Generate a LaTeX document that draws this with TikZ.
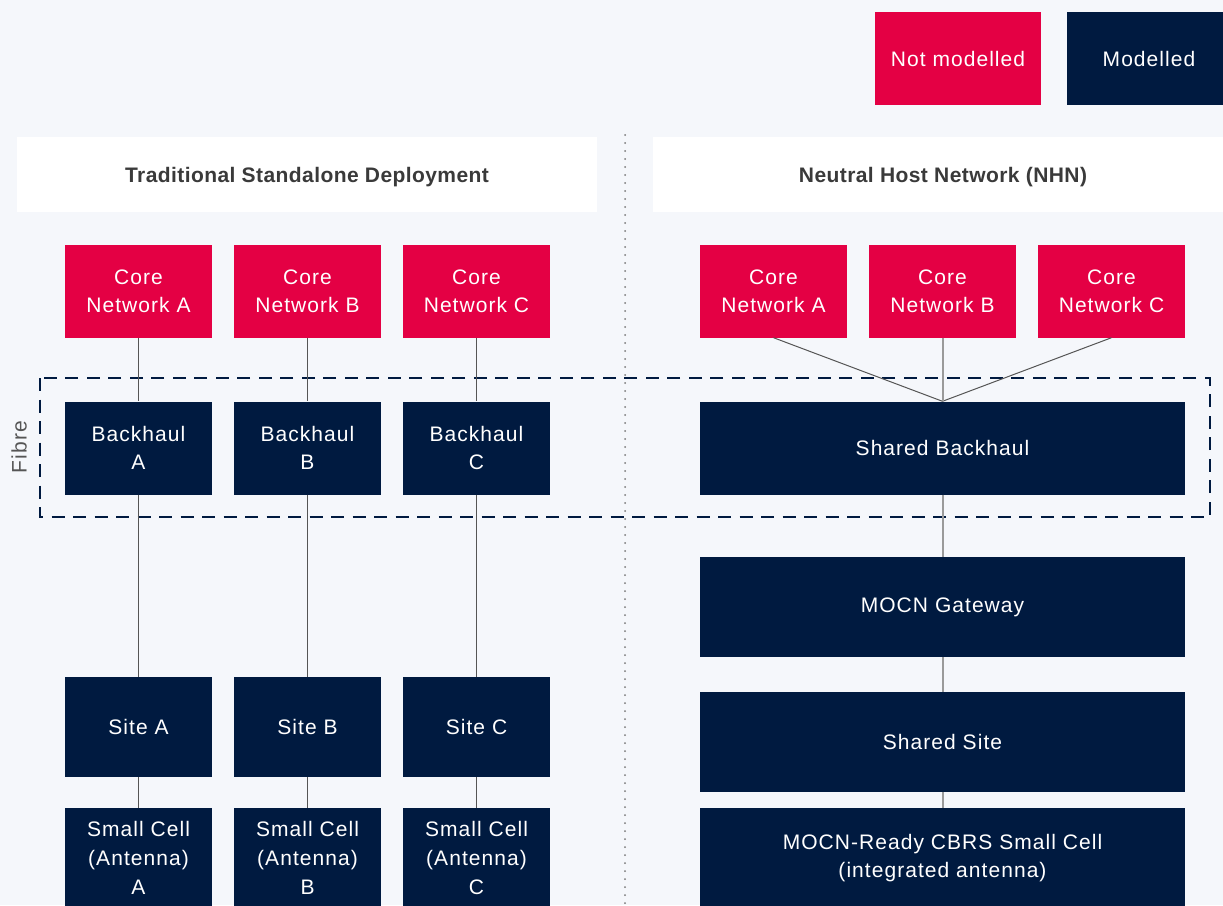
\documentclass[tikz,border=0pt]{standalone}
\usepackage{fontspec}
\setmainfont{Liberation Sans}
\newfontfamily\boxfont[LetterSpace=5]{Liberation Sans}
\newfontfamily\hdrfont[LetterSpace=2]{Liberation Sans}
\definecolor{bg}{HTML}{F5F7FB}
\definecolor{nred}{HTML}{E40044}
\definecolor{navy}{HTML}{001A40}
\definecolor{hdr}{HTML}{3A3A3A}
\definecolor{ln}{HTML}{555555}
\definecolor{lnl}{HTML}{9A9A9A}
\tikzset{
  box/.style={rectangle, inner sep=0pt, text=white, align=center, font=\boxfont\fontsize{21}{28}\selectfont},
  redbox/.style={box, fill=nred},
  navybox/.style={box, fill=navy},
  hdrbox/.style={rectangle, inner sep=0pt, fill=white, text=hdr, text height=15pt, text depth=0pt, font=\hdrfont\fontsize{21}{24}\selectfont\bfseries},
  conn/.style={draw=ln, line width=1pt},
  connl/.style={draw=lnl, line width=2pt},
}
\begin{document}
\begin{tikzpicture}[x=1pt,y=-1pt]
\clip (0,0) rectangle (1223,905);
\fill[bg] (0,0) rectangle (1223,905);
% legend
\node[redbox, minimum width=166pt, minimum height=93pt] (lnm) at (958,58.5) {Not modelled};
\node[navybox, minimum width=164pt, minimum height=93pt] (lm) at (1149,58.5) {Modelled};
% headers
\node[hdrbox, minimum width=580pt, minimum height=75pt] (hl) at (307,174.5) {Traditional Standalone Deployment};
\node[hdrbox, minimum width=580pt, minimum height=75pt] (hr) at (943,174.5) {Neutral Host Network (NHN)};
% divider
\coordinate (dtop) at (625,135);
\coordinate (dbot) at (625,910);
\draw[color=ln!80, line width=2pt, line cap=round, dash pattern=on 0pt off 8pt] (dtop) -- (dbot);
% dashed fibre region
\draw[navy, line width=2.8pt, dash pattern=on 13pt off 8.5pt] (40,378) rectangle (1210,517);
\node[text=ln, rotate=90, font=\boxfont\fontsize{21}{24}\selectfont] (fibre) at (19,447) {Fibre};
% left column
\foreach \n/\x in {A/138.5, B/307.5, C/476.5} {
  \node[redbox, minimum width=147pt, minimum height=93pt] (core\n) at (\x,291) {Core\\Network \n};
  \node[navybox, minimum width=147pt, minimum height=93pt] (bh\n) at (\x,448) {Backhaul\\\n};
  \node[navybox, minimum width=147pt, minimum height=100pt] (site\n) at (\x,727) {Site \n};
  \node[navybox, minimum width=147pt, minimum height=100pt, font=\boxfont\fontsize{21}{29}\selectfont] (sc\n) at (\x,858) {Small Cell\\(Antenna)\\\n};
}
\foreach \n in {A,B,C} {
  \draw[conn] (core\n.south) -- (bh\n.north);
  \draw[conn] (bh\n.south) -- (site\n.north);
  \draw[conn] (site\n.south) -- (sc\n.north);
}
% right column
\foreach \n/\x in {A/773.5, B/942.5, C/1111.5} {
  \node[redbox, minimum width=147pt, minimum height=93pt] (rcore\n) at (\x,291) {Core\\Network \n};
}
\node[navybox, minimum width=485pt, minimum height=93pt] (sbh) at (942.5,448) {Shared Backhaul};
\node[navybox, minimum width=485pt, minimum height=100pt] (gw) at (942.5,607) {MOCN Gateway};
\node[navybox, minimum width=485pt, minimum height=100pt] (ss) at (942.5,742) {Shared Site};
\node[navybox, minimum width=485pt, minimum height=100pt] (mr) at (942.5,858) {MOCN-Ready CBRS Small Cell\\(integrated antenna)};
\draw[conn] (rcoreA.south) -- (sbh.north);
\draw[conn] (rcoreC.south) -- (sbh.north);
\draw[connl] (rcoreB.south) -- (sbh.north);
\draw[connl] (sbh.south) -- (gw.north);
\draw[connl] (gw.south) -- (ss.north);
\draw[connl] (ss.south) -- (mr.north);
\end{tikzpicture}
\end{document}
